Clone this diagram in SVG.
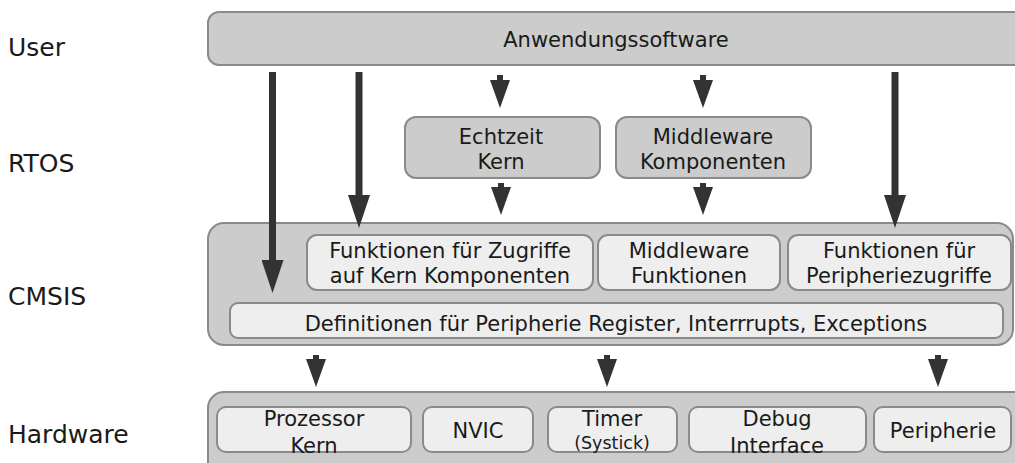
<svg xmlns="http://www.w3.org/2000/svg" width="1015" height="463" viewBox="0 0 1015 463">
  <style>
    text { font-family: "DejaVu Sans", Verdana, sans-serif; fill: #1a1a1a; }
    .layer { font-size: 25px; }
    .lbl { font-size: 21px; text-anchor: middle; }
    .sm { font-size: 17.5px; text-anchor: middle; }
    .outer { fill: #cccccc; stroke: #8a8a8a; stroke-width: 2; }
    .inner { fill: #eeeeee; stroke: #8a8a8a; stroke-width: 2; }
    .thick { stroke: #333333; stroke-width: 7; fill: none; }
    .thin { stroke: #333333; stroke-width: 6; fill: none; }
  </style>
  <defs>
    <marker id="headBig" markerUnits="userSpaceOnUse" viewBox="0 0 33 22" refX="2" refY="11" markerWidth="33" markerHeight="22" orient="auto">
      <path d="M0,0 L33,11 L0,22 Z" fill="#333333"/>
    </marker>
    <marker id="headSmall" markerUnits="userSpaceOnUse" viewBox="0 0 28 20" refX="2" refY="10" markerWidth="28" markerHeight="20" orient="auto">
      <path d="M0,0 L28,10 L0,20 Z" fill="#333333"/>
    </marker>
  </defs>

  <rect width="1015" height="463" fill="#ffffff"/>

  <!-- layer captions -->
  <g id="layer-labels">
    <text class="layer" x="8" y="56">User</text>
    <text class="layer" x="8" y="172">RTOS</text>
    <text class="layer" x="8" y="305">CMSIS</text>
    <text class="layer" x="8" y="443">Hardware</text>
  </g>

  <!-- user layer -->
  <g id="anwendungssoftware">
    <rect class="outer" x="208" y="12" width="830" height="53" rx="11"/>
    <text class="lbl" x="616" y="47">Anwendungssoftware</text>
  </g>

  <!-- RTOS layer -->
  <g id="echtzeit-kern">
    <rect class="outer" x="405" y="117" width="195" height="61" rx="11"/>
    <text class="lbl" x="501" y="144">Echtzeit</text>
    <text class="lbl" x="501" y="169">Kern</text>
  </g>
  <g id="middleware-komponenten">
    <rect class="outer" x="616" y="117" width="195" height="61" rx="11"/>
    <text class="lbl" x="713" y="144">Middleware</text>
    <text class="lbl" x="713" y="169">Komponenten</text>
  </g>

  <!-- CMSIS layer -->
  <g id="cmsis">
    <rect class="outer" x="208" y="223" width="805" height="122" rx="16"/>
  </g>
  <g id="kern-zugriffe">
    <rect class="inner" x="307" y="235" width="286" height="55" rx="10"/>
    <text class="lbl" x="450" y="258">Funktionen für Zugriffe</text>
    <text class="lbl" x="450" y="283">auf Kern Komponenten</text>
  </g>
  <g id="middleware-funktionen">
    <rect class="inner" x="598" y="235" width="182" height="55" rx="10"/>
    <text class="lbl" x="689" y="258">Middleware</text>
    <text class="lbl" x="689" y="283">Funktionen</text>
  </g>
  <g id="peripheriezugriffe">
    <rect class="inner" x="788" y="235" width="223" height="55" rx="10"/>
    <text class="lbl" x="899" y="258">Funktionen für</text>
    <text class="lbl" x="899" y="283">Peripheriezugriffe</text>
  </g>
  <g id="definitionen">
    <rect class="inner" x="230" y="303" width="773" height="35" rx="8"/>
    <text class="lbl" x="616" y="331">Definitionen für Peripherie Register, Interrrupts, Exceptions</text>
  </g>

  <!-- hardware layer -->
  <g id="hardware">
    <rect class="outer" x="208" y="392" width="830" height="90" rx="16"/>
  </g>
  <g id="prozessor-kern">
    <rect class="inner" x="217" y="407" width="194" height="45" rx="9"/>
    <text class="lbl" x="314" y="426">Prozessor</text>
    <text class="lbl" x="314" y="453">Kern</text>
  </g>
  <g id="nvic">
    <rect class="inner" x="423" y="407" width="110" height="45" rx="9"/>
    <text class="lbl" x="478" y="438">NVIC</text>
  </g>
  <g id="timer">
    <rect class="inner" x="548" y="407" width="129" height="45" rx="9"/>
    <text class="lbl" x="612" y="426">Timer</text>
    <text class="sm" x="612" y="449">(Systick)</text>
  </g>
  <g id="debug-interface">
    <rect class="inner" x="689" y="407" width="177" height="45" rx="9"/>
    <text class="lbl" x="777" y="426">Debug</text>
    <text class="lbl" x="777" y="453">Interface</text>
  </g>
  <g id="peripherie">
    <rect class="inner" x="874" y="407" width="137" height="45" rx="9"/>
    <text class="lbl" x="943" y="438">Peripherie</text>
  </g>

  <!-- connectors -->
  <g id="connectors">
    <line class="thick" x1="272.5" y1="72" x2="272.5" y2="262" marker-end="url(#headBig)"/>
    <line class="thick" x1="359" y1="72" x2="359" y2="197" marker-end="url(#headBig)"/>
    <line class="thick" x1="895" y1="72" x2="895" y2="197" marker-end="url(#headBig)"/>

    <line class="thin" x1="500" y1="75" x2="500" y2="82" marker-end="url(#headSmall)"/>
    <line class="thin" x1="703" y1="75" x2="703" y2="82" marker-end="url(#headSmall)"/>
    <line class="thin" x1="501" y1="183" x2="501" y2="189" marker-end="url(#headSmall)"/>
    <line class="thin" x1="703" y1="183" x2="703" y2="189" marker-end="url(#headSmall)"/>

    <line class="thin" x1="316" y1="355" x2="316" y2="361" marker-end="url(#headSmall)"/>
    <line class="thin" x1="607" y1="355" x2="607" y2="361" marker-end="url(#headSmall)"/>
    <line class="thin" x1="938" y1="355" x2="938" y2="361" marker-end="url(#headSmall)"/>
  </g>
</svg>
